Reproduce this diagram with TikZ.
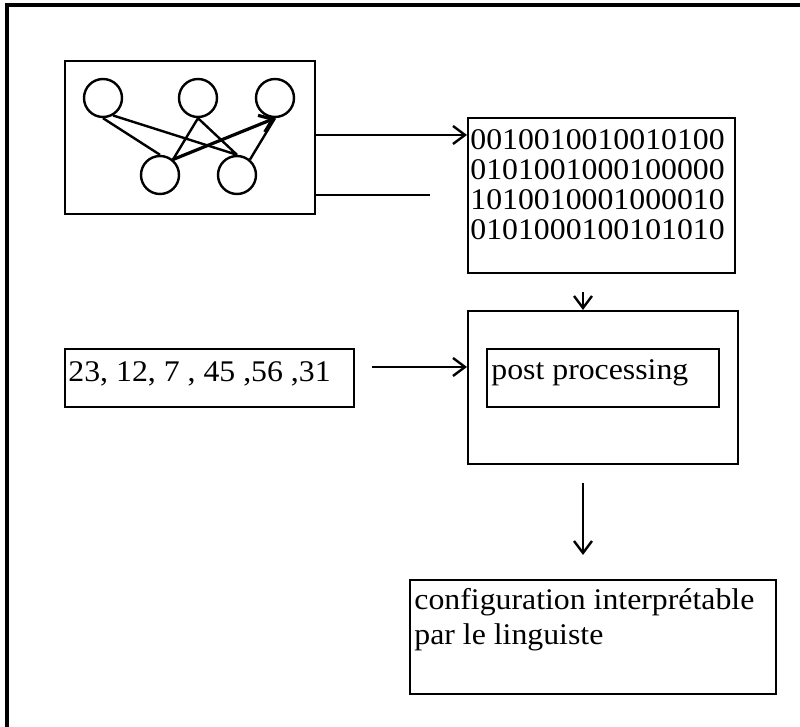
\documentclass[tikz,border=0pt]{standalone}
\usepackage{fontspec}
\setmainfont{Liberation Serif}[FakeStretch=1.06]
\usetikzlibrary{arrows.meta}
\tikzset{every node/.style={font=\fontsize{15}{15}\selectfont}}
\tikzset{blk/.style={draw,line width=1.2pt,inner sep=0pt,anchor=north west}}
\tikzset{dot/.style={circle,draw,line width=1.2pt,minimum size=19pt,inner sep=0pt}}
\tikzset{txt/.style={inner sep=0pt,anchor=base west,align=left}}
\tikzset{arr/.style={line width=1.2pt,-{Straight Barb[length=6pt,width=9pt]}}}
\newcommand{\blkat}[4]{\node[blk,minimum width=#3,minimum height=#4] (#2) at (#1) {}}

\begin{document}
\begin{tikzpicture}[x=0.5pt,y=-0.5pt]
        \useasboundingbox (0,0) rectangle (800,727);
        \draw[line width=1.6pt] (7,727) -- (7,5) -- (800,5);

        % boxes
        \blkat{64,60}{graph}{125pt}{76.5pt};
        \blkat{467,117}{bits}{133.5pt}{77.5pt};
        \blkat{64,348}{nums}{144.5pt}{29pt};
        \blkat{467,310}{post}{135pt}{76.5pt};
        \blkat{486,348}{proc}{116pt}{29pt};
        \blkat{409,579}{final}{183pt}{57pt};

        % texts (base = last line)
        \node[txt,font=\fontsize{15}{15}\selectfont] (bitstxt) at (470,240)
          {0010010010010100\\0101001000100000\\1010010001000010\\0101000100101010};
        \node[txt] (numstxt) at (68,382) {23, 12, 7 , 45 ,56 ,31};
        \node[txt] (proctxt) at (491,380) {post processing};
        \node[txt,font=\fontsize{15}{17.5}\selectfont] (finaltxt) at (414,645)
          {configuration interprétable\\par le linguiste};

        % small graph
        \node[dot] (c1) at (103,98) {};
        \node[dot] (c2) at (198,98) {};
        \node[dot] (c3) at (275,98) {};
        \node[dot] (c4) at (160,175) {};
        \node[dot] (c5) at (237,175) {};
        \draw[line width=1.2pt]
        (c1.south) -- (c4.north)
        (c1.-60) -- (c5.north)
        (c2.south) -- (c4.50)
        (c2.south) -- (c5.north)
        (c5.50) -- (c3.south);
        \draw[arr,line width=1.6pt] (c4.50) -- (c3.south);

        % connectors
        \coordinate (loose) at (430,195);
        \coordinate (tick) at (583,292);
        \coordinate (numsout) at (372,367);
        \coordinate (downtop) at (583,483);
        \coordinate (downend) at (583,555);
        \draw[arr] (graph.east |- 0,135) -- (bits.west |- 0,135);
        \draw[line width=1.2pt] (graph.east |- loose) -- (loose);
        \draw[arr] (tick) -- (tick |- post.north);
        \draw[arr] (numsout) -- (numsout -| post.west);
        \draw[arr] (downtop) -- (downend);

    \end{tikzpicture}
\end{document}
